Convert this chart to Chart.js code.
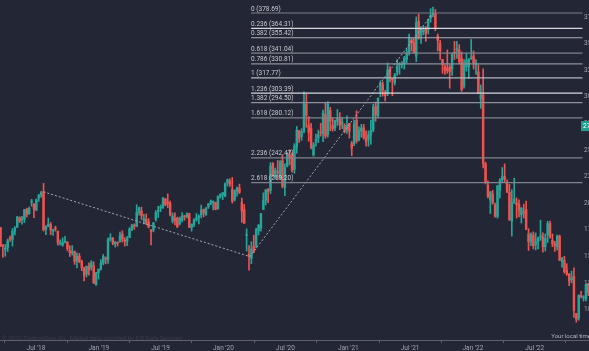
<!DOCTYPE html>
<html>
<head>
<meta charset="utf-8">
<script src="https://cdn.jsdelivr.net/npm/chart.js@4.4.1/dist/chart.umd.min.js"></script>
<style>
  html, body { margin: 0; padding: 0; background: #232634; overflow: hidden; }
  #grafico { display: block; }
</style>
</head>
<body>
<canvas id="grafico" width="589" height="351"></canvas>
<script>
// weekly candles, first one is the week of 19 Mar 2018, one entry per week after that
const firstWeek = '2018-03-19';

const opens = [
  // 2018
  177.0, 160.8, 156.6, 157.9, 166.6, 165.8, 173.8, 177.4, 186.5, 184.5, 184.9, 194.0, 190.0, 201.0, 199.1, 193.4, 204.9, 207.5, 210.6, 175.3, 178.3,
  180.0, 173.7, 176.3, 173.5, 161.6, 160.6, 163.0, 163.0, 155.5, 153.3, 154.5, 145.8, 150.1, 145.0, 139.0, 133.0, 140.7, 139.6, 141.0, 123.1, 134.5,
  // 2019
  137.9, 143.8, 147.9, 146.6, 165.9, 167.3, 161.9, 163.0, 163.9, 171.0, 164.9, 164.0, 167.8, 175.5, 178.8, 178.3, 191.5, 192.5, 183.5, 184.7, 182.4,
  175.0, 174.8, 185.0, 192.4, 195.2, 196.0, 204.1, 199.9, 200.0, 183.1, 185.5, 186.0, 180.5, 184.0, 187.3, 186.9, 190.2, 177.1, 180.0, 184.6, 186.3,
  189.0, 194.0, 189.3, 196.5, 199.5, 201.0, 200.7, 195.0, 206.3, 207.9,
  // 2020
  206.5, 219.1, 220.6, 213.1, 203.4, 211.5, 214.2, 200.7, 194.0, 169.6, 152.1, 148.1, 159.2, 160.0, 174.0, 176.8, 194.0, 202.5, 213.0, 212.0, 237.5,
  224.6, 229.0, 223.3, 239.8, 214.6, 234.6, 245.0, 242.0, 231.7, 252.8, 268.0, 262.5, 267.4, 293.3, 273.1, 270.5, 245.3, 258.0, 261.0, 266.0, 265.5,
  283.2, 264.5, 287.0, 273.0, 271.0, 277.0, 279.0, 274.0, 273.0, 268.7,
  // 2021
  274.8, 256.0, 256.0, 278.0, 259.5, 267.5, 271.0, 261.5, 260.0, 264.0, 269.0, 291.0, 282.0, 305.0, 311.0, 302.0, 303.0, 326.0, 316.0, 313.0, 323.0,
  330.0, 330.0, 331.0, 335.0, 341.0, 353.0, 351.0, 338.0, 371.0, 358.0, 361.0, 364.0, 363.0, 374.0, 377.0, 378.0, 357.0, 350.0, 335.0, 328.0, 327.0,
  328.0, 326.0, 342.0, 344.0, 344.0, 336.0, 310.0, 328.0, 328.0, 336.0,
  // 2022
  338.3, 330.0, 323.3, 298.0, 301.8, 237.0, 217.0, 203.0, 208.0, 198.0, 187.5, 212.0, 222.0, 225.0, 219.0, 210.0, 183.0, 200.0, 200.0, 199.0, 189.0,
  191.0, 194.0, 171.0, 164.0, 170.0, 161.0, 164.0, 168.0, 168.0, 159.0, 170.0, 181.0, 165.0, 161.0, 159.0, 169.0, 145.0, 146.0, 137.0, 133.0, 128.0,
  131.0, 96.0, 92.0, 113.0, 111.0, 110.0, 124.0
];
const highs = [
  // 2018
  177.2, 161.1, 161.1, 166.2, 169.0, 176.0, 178.0, 187.5, 187.2, 187.6, 194.0, 195.3, 196.2, 203.6, 199.5, 204.0, 208.4, 211.0, 218.6, 178.9, 186.0,
  181.8, 175.5, 178.3, 173.9, 165.5, 167.4, 168.8, 163.9, 160.0, 160.1, 155.2, 153.4, 152.8, 146.5, 139.8, 141.0, 143.8, 146.0, 144.9, 134.9, 138.0,
  // 2019
  147.0, 151.7, 149.4, 167.5, 171.3, 167.6, 164.2, 163.7, 172.7, 174.0, 167.6, 168.8, 177.0, 180.0, 180.5, 198.5, 196.2, 196.2, 189.4, 189.8, 185.5,
  175.0, 182.0, 193.0, 197.0, 198.3, 205.1, 204.1, 208.7, 202.0, 190.9, 190.9, 186.8, 187.1, 190.9, 188.5, 190.8, 190.5, 180.0, 185.4, 190.2, 188.9,
  198.1, 194.4, 196.0, 199.6, 203.0, 202.0, 200.9, 206.8, 208.9, 209.8,
  // 2020
  219.0, 222.6, 222.9, 224.2, 212.0, 215.0, 217.8, 204.8, 198.8, 175.8, 160.0, 163.8, 169.8, 176.2, 180.0, 190.3, 209.7, 213.0, 213.6, 238.1, 238.0,
  233.0, 240.1, 240.0, 245.2, 237.0, 247.4, 250.2, 247.0, 255.9, 272.0, 268.5, 270.0, 304.7, 302.8, 281.3, 275.0, 257.0, 264.9, 268.6, 275.0, 287.5,
  294.0, 295.4, 290.0, 280.0, 278.0, 288.0, 285.0, 280.5, 274.6, 282.0,
  // 2021
  275.0, 258.0, 278.0, 286.8, 271.8, 274.0, 274.0, 268.0, 267.9, 278.0, 293.0, 295.0, 298.8, 315.0, 314.0, 306.0, 331.8, 328.5, 317.0, 322.0, 335.0,
  332.0, 333.0, 338.0, 345.0, 358.8, 355.0, 354.0, 375.0, 377.5, 366.0, 366.0, 366.0, 373.0, 382.8, 384.3, 382.0, 359.0, 353.0, 335.0, 330.0, 344.0,
  330.0, 341.0, 352.0, 352.0, 349.0, 342.0, 335.0, 341.0, 336.0, 353.8,
  // 2022
  343.1, 335.0, 330.0, 311.0, 326.2, 238.5, 221.0, 211.0, 212.0, 200.0, 216.6, 223.0, 233.5, 236.9, 222.0, 217.7, 212.5, 223.4, 205.0, 203.0, 196.0,
  199.0, 202.0, 176.0, 172.0, 173.0, 172.0, 168.0, 184.0, 172.0, 171.0, 183.0, 183.1, 171.0, 164.0, 170.0, 170.0, 149.0, 150.0, 143.0, 134.0, 136.0,
  139.2, 96.5, 114.0, 117.0, 113.0, 123.8, 124.9
];
const lows = [
  // 2018
  159.0, 149.0, 150.1, 154.5, 163.9, 159.6, 170.2, 177.1, 181.6, 180.2, 181.8, 187.0, 189.5, 197.0, 186.4, 192.8, 201.7, 205.4, 173.8, 170.3, 177.8,
  170.3, 169.6, 173.7, 160.6, 160.6, 159.4, 162.6, 155.2, 149.8, 151.1, 142.4, 139.0, 144.0, 136.5, 126.9, 130.5, 132.4, 137.0, 124.4, 123.0, 128.6,
  // 2019
  137.0, 142.0, 142.9, 143.4, 164.3, 160.8, 158.7, 159.6, 163.2, 163.4, 159.6, 159.9, 167.4, 174.2, 175.3, 177.8, 188.6, 184.6, 180.5, 179.6, 176.7,
  160.8, 173.0, 183.0, 186.5, 192.0, 195.0, 197.6, 195.7, 188.0, 181.3, 179.5, 177.0, 179.5, 182.4, 184.0, 186.1, 177.1, 173.7, 177.8, 183.0, 180.5,
  186.1, 187.2, 188.4, 195.0, 198.5, 193.6, 193.7, 194.1, 204.6, 203.3,
  // 2020
  206.1, 216.0, 215.7, 200.0, 202.0, 206.5, 209.0, 181.8, 180.9, 155.0, 137.1, 143.0, 153.3, 158.0, 170.0, 173.6, 194.0, 198.2, 200.5, 209.0, 225.0,
  222.6, 221.7, 222.0, 214.3, 207.1, 234.0, 236.0, 229.0, 228.0, 247.0, 257.0, 258.9, 266.1, 271.2, 258.2, 251.0, 244.1, 253.5, 256.8, 263.0, 257.8,
  261.0, 262.0, 268.0, 267.6, 268.2, 273.0, 269.0, 270.0, 266.0, 265.5,
  // 2021
  261.2, 244.6, 254.0, 256.5, 258.5, 262.0, 260.0, 253.5, 253.5, 255.5, 267.0, 277.0, 280.0, 300.0, 300.6, 296.0, 301.0, 314.0, 301.0, 311.0, 320.0,
  321.0, 327.0, 326.0, 332.0, 339.0, 343.0, 341.0, 333.0, 354.0, 350.0, 358.0, 352.0, 359.0, 370.0, 375.0, 362.0, 343.0, 335.0, 322.0, 321.0, 322.0,
  308.0, 320.0, 335.0, 336.0, 331.0, 305.0, 308.0, 324.0, 317.0, 335.0,
  // 2022
  326.0, 321.0, 303.0, 289.0, 233.0, 218.0, 205.0, 190.2, 199.0, 186.9, 185.8, 205.0, 220.0, 220.0, 210.0, 184.0, 169.0, 200.0, 186.0, 187.0, 181.3,
  186.0, 175.0, 155.5, 160.0, 157.0, 156.0, 157.0, 165.0, 154.0, 155.0, 163.0, 167.0, 159.0, 154.5, 156.0, 145.9, 139.8, 134.1, 132.0, 122.5, 125.0,
  92.6, 88.1, 90.0, 111.0, 108.0, 108.0, 113.0
];
const closes = [
  // 2018
  159.4, 159.8, 157.2, 164.5, 166.3, 173.6, 176.6, 187.0, 183.2, 184.9, 194.0, 189.1, 195.1, 201.7, 194.3, 203.2, 207.3, 209.9, 174.9, 177.8, 180.2,
  174.7, 174.7, 175.7, 163.0, 162.3, 162.9, 164.5, 157.3, 153.4, 154.1, 145.4, 150.4, 145.0, 139.5, 131.7, 140.6, 137.4, 144.1, 125.0, 134.5, 138.1,
  // 2019
  143.8, 150.0, 147.5, 165.7, 167.3, 162.3, 161.9, 162.3, 169.6, 166.0, 164.3, 166.7, 175.7, 179.1, 178.3, 191.5, 195.5, 188.3, 185.3, 181.1, 177.5,
  173.4, 181.3, 191.1, 193.0, 196.4, 204.9, 198.4, 199.8, 189.0, 187.9, 183.7, 177.8, 185.7, 187.5, 187.2, 189.9, 177.1, 180.5, 184.2, 185.9, 187.9,
  193.6, 190.8, 195.1, 199.3, 201.6, 201.1, 194.1, 206.3, 208.1, 209.8,
  // 2020
  218.3, 222.1, 217.9, 201.9, 212.3, 214.2, 210.2, 192.5, 181.1, 170.3, 149.7, 156.8, 154.2, 175.2, 179.2, 190.1, 202.3, 212.4, 210.9, 234.9, 225.5,
  230.8, 228.6, 238.8, 216.1, 233.4, 245.1, 242.0, 230.7, 253.7, 268.4, 261.2, 267.0, 293.7, 282.7, 266.6, 252.5, 254.8, 259.9, 264.5, 265.9, 284.8,
  263.1, 293.4, 277.0, 269.7, 277.8, 279.7, 273.6, 276.4, 267.4, 273.2,
  // 2021
  267.6, 251.4, 274.5, 258.3, 268.4, 270.5, 261.6, 257.6, 264.3, 268.4, 290.1, 283.0, 298.7, 312.5, 306.2, 301.1, 325.1, 319.1, 315.9, 320.6, 328.7,
  330.4, 331.3, 336.5, 341.4, 354.7, 350.4, 341.5, 369.8, 356.3, 363.5, 363.2, 359.4, 372.6, 376.3, 378.0, 364.7, 353.0, 343.0, 330.1, 324.8, 324.6,
  323.6, 341.1, 340.9, 345.3, 333.1, 306.8, 329.8, 333.8, 335.2, 336.4,
  // 2022
  331.8, 331.9, 303.2, 301.7, 237.1, 219.6, 206.2, 210.5, 200.1, 187.6, 216.5, 221.8, 224.9, 222.3, 210.2, 184.1, 200.5, 203.8, 198.6, 193.5, 195.1,
  190.8, 175.6, 163.7, 170.2, 160.0, 163.9, 167.3, 169.3, 159.1, 167.1, 180.9, 168.0, 161.8, 160.3, 169.2, 146.3, 147.9, 135.7, 133.5, 126.8, 130.0,
  99.2, 90.8, 113.0, 112.1, 111.4, 123.5, 115.9
];

// time axis labels
const tickDates = ['2018-07-01', '2019-01-01', '2019-07-01', '2020-01-01', '2020-07-01', '2021-01-01', '2021-07-01', '2022-01-01', '2022-07-01'];
const tickLabels = ["Jul '18", "Jan '19", "Jul '19", "Jan '20", "Jul '20", "Jan '21", "Jul '21", "Jan '22", "Jul '22"];

// price axis labels
const priceTicks = [100, 125, 150, 175, 200, 225, 250, 275, 300, 325, 350, 375];

// fibonacci extension
const fibRatios = ['0', '0.236', '0.382', '0.618', '0.786', '1', '1.236', '1.382', '1.618', '2.236', '2.618'];
const fibPrices = [378.69, 364.31, 355.42, 341.04, 330.81, 317.77, 303.39, 294.50, 280.12, 242.47, 219.20];
const fibColors = ['#7d808a', '#d6d8de', '#aeb1ba', '#80838d', '#8e919b', '#b4b7c0', '#d6d8de', '#8e919b', '#80838d', '#80838d', '#80838d'];
const fibFrom = '2020-03-22';
const fibTo = '2022-11-18';

// trend points of the extension (dashed line)
const trendDates = ['2018-07-23', '2020-03-19', '2021-09-06'];
const trendPrices = [210.65, 149.73, 378.69];

const lastPrice = 272.4;

const corFundo = '#232634';
const verde = '#26a69a';
const vermelho = '#ef5350';
const corTexto = '#a3a6af';

const DIA = 864e5;
const origem = Date.UTC(2018, 6, 1);
function dia(s) {
  const p = s.split('-').map(Number);
  return (Date.UTC(p[0], p[1] - 1, p[2]) - origem) / DIA;
}

const semanaInicial = dia(firstWeek);
const semanas = opens.map((_, i) => semanaInicial + i * 7);
const cores = closes.map((c, i) => (c >= opens[i] ? verde : vermelho));
const tickDias = tickDates.map(dia);

const fonte = "Roboto, 'DejaVu Sans', sans-serif";

const datasets = [];

// fib lines
fibPrices.forEach((p, i) => {
  datasets.push({
    type: 'line',
    data: [{ x: dia(fibFrom), y: p }, { x: dia(fibTo), y: p }],
    borderColor: fibColors[i],
    borderWidth: 1.2,
    pointRadius: 0,
    order: 0
  });
});

datasets.push({
  type: 'line',
  data: trendDates.map((d, i) => ({ x: dia(d), y: trendPrices[i] })),
  borderColor: '#a7aab3',
  borderWidth: 1,
  borderDash: [2, 2],
  pointRadius: 0,
  order: 0
});

// wicks
datasets.push({
  type: 'bar',
  data: semanas.map((d, i) => ({ x: d, y: [lows[i], highs[i]] })),
  backgroundColor: cores,
  barThickness: 1,
  grouped: false,
  order: 3
});
// bodies
datasets.push({
  type: 'bar',
  data: semanas.map((d, i) => ({ x: d, y: [opens[i], closes[i]] })),
  backgroundColor: cores,
  barThickness: 1.8,
  minBarLength: 1,
  grouped: false,
  order: 2
});

const extras = {
  id: 'extras',
  beforeDraw(chart) {
    const c = chart.ctx;
    c.save();
    c.fillStyle = corFundo;
    c.fillRect(0, 0, chart.width, chart.height);
    c.restore();
  },
  afterDatasetsDraw(chart) {
    const c = chart.ctx;
    const x = chart.scales.x;
    const y = chart.scales.y;
    c.save();
    c.font = '6.5px ' + fonte;
    c.textBaseline = 'alphabetic';
    c.textAlign = 'left';
    const x0 = x.getPixelForValue(dia(fibFrom));
    fibPrices.forEach((p, i) => {
      c.fillStyle = '#c9cbd2';
      c.fillText(fibRatios[i] + ' (' + p.toFixed(2) + ')', x0, y.getPixelForValue(p) - 2.5);
    });

    // price scale labels, mostly outside the picture
    c.textBaseline = 'middle';
    c.fillStyle = corTexto;
    priceTicks.forEach(v => c.fillText(String(v), 584, y.getPixelForValue(v)));

    const yl = y.getPixelForValue(lastPrice);
    c.fillStyle = '#22a08f';
    c.fillRect(581, yl - 5, 30, 10);
    c.fillStyle = '#ffffff';
    c.fillText(lastPrice.toFixed(2), 583, yl + 0.5);

    c.font = '6px ' + fonte;
    c.fillStyle = '#393c4a';
    c.fillText('\u00a9 2022 TradingView, Inc. Market data provided by ICE Data Services', 2, 338);
    c.textAlign = 'right';
    c.fillStyle = '#b2b5be';
    c.fillText('Your local time', 591, 336);
    c.restore();
  }
};

const ctx = document.getElementById('grafico').getContext('2d');
const grafico = new Chart(ctx, {
  type: 'bar',
  data: { datasets },
  options: {
    animation: false,
    responsive: false,
    devicePixelRatio: 1,
    layout: { padding: 0 },
    plugins: { legend: { display: false }, tooltip: { enabled: false } },
    scales: {
      x: {
        type: 'linear',
        min: -105.5,
        max: 1620.1,
        offset: false,
        afterBuildTicks: (s) => { s.ticks = tickDias.map(v => ({ value: v })); },
        afterFit: (s) => { s.height = 11; },
        ticks: {
          autoSkip: false,
          maxRotation: 0,
          padding: 1,
          color: corTexto,
          font: { family: fonte, size: 6.5 },
          callback: (v, i) => tickLabels[i]
        },
        grid: { drawOnChartArea: false, tickLength: 3, color: '#5d606b' },
        border: { color: '#5d606b', width: 1 }
      },
      y: {
        type: 'linear',
        display: false,
        min: 71.36,
        max: 390.91
      }
    }
  },
  plugins: [extras]
});
</script>
</body>
</html>
